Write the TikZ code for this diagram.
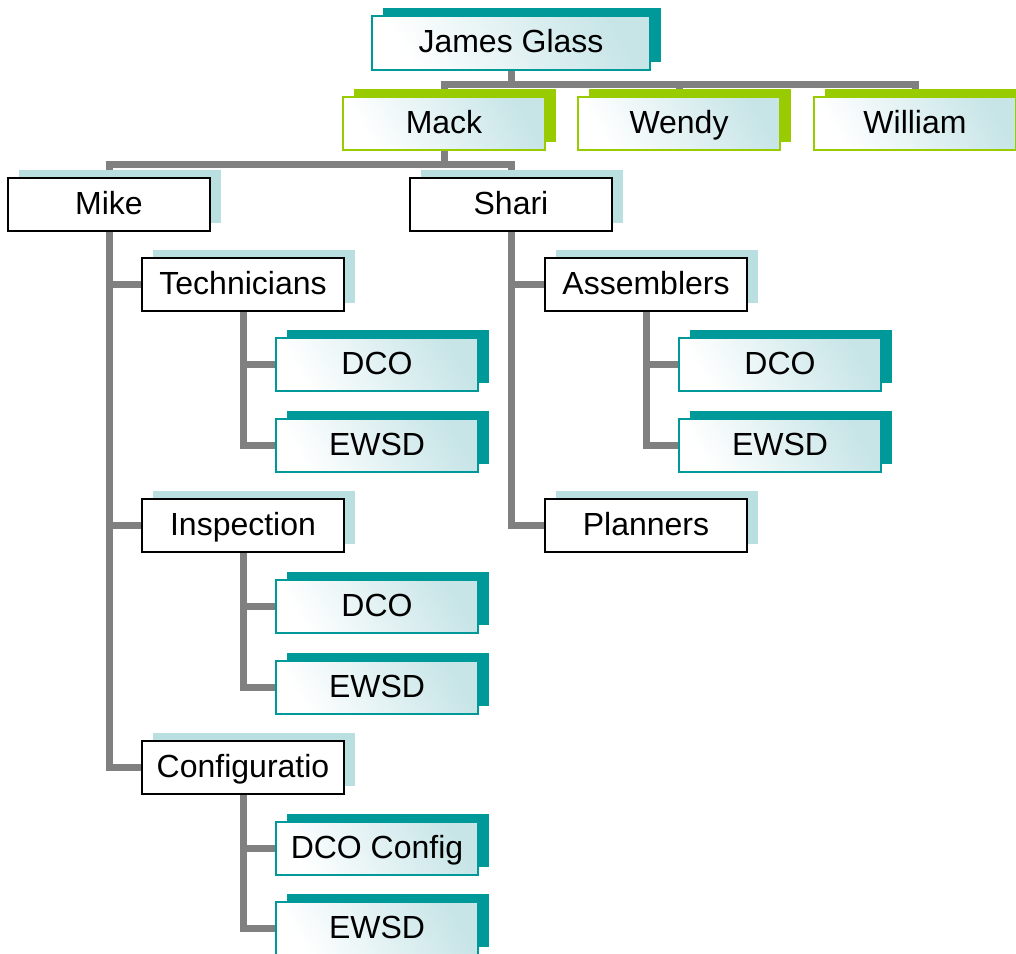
\documentclass[tikz,border=0pt]{standalone}
\usepackage{fontspec}
\setmainfont{Liberation Sans}
\usetikzlibrary{shadows,backgrounds}

\definecolor{tealdark}{HTML}{009999}
\definecolor{limegreen}{HTML}{99CC00}
\definecolor{paleblue}{HTML}{B9DFE1}
\definecolor{gradblue}{HTML}{BDE0E3}
\definecolor{linegray}{HTML}{808080}

\tikzset{
    box/.style={rectangle, minimum width=101pt, minimum height=26.5pt, inner sep=0pt,
        text height=12pt, text depth=2.5pt,
        font=\fontsize{16}{18}\selectfont, line width=1pt},
    shadebox/.style={box, left color=white, right color=gradblue!85, shading angle=120},
    tealbox/.style={shadebox, draw=tealdark,
        drop shadow={shadow xshift=5.5pt, shadow yshift=4pt, opacity=1, fill=tealdark}},
    greenbox/.style={shadebox, draw=limegreen,
        drop shadow={shadow xshift=5.5pt, shadow yshift=4pt, opacity=1, fill=limegreen}},
    plainbox/.style={box, draw=black, fill=white,
        drop shadow={shadow xshift=5.5pt, shadow yshift=4pt, opacity=1, fill=paleblue}},
    conn/.style={draw=linegray, line width=3.5pt}
}

\begin{document}
\begin{tikzpicture}[x=0.5pt, y=-0.5pt]
    \useasboundingbox (0,0) rectangle (1016,953);
    \clip (0,0) rectangle (1016,953);

    % top level
    \node[tealbox, minimum width=139pt, minimum height=27pt] (james) at (511,43) {James Glass};
    \node[greenbox] (mack) at (444,123.5) {Mack};
    \node[greenbox] (wendy) at (679,123.5) {Wendy};
    \node[greenbox] (william) at (915,123.5) {William};

    % Mike branch
    \node[plainbox] (mike) at (109,204.5) {Mike};
    \node[plainbox] (tech) at (243,284.5) {Technicians};
    \node[tealbox] (techdco) at (377,364.5) {DCO};
    \node[tealbox] (techewsd) at (377,445.5) {EWSD};
    \node[plainbox] (insp) at (243,525.5) {Inspection};
    \node[tealbox] (inspdco) at (377,606.5) {DCO};
    \node[tealbox] (inspewsd) at (377,687.5) {EWSD};
    \node[plainbox] (conf) at (243,767.5) {Configuratio};
    \node[tealbox] (confdco) at (377,848.5) {DCO Config};
    \node[tealbox] (confewsd) at (377,928.5) {EWSD};

    % Shari branch
    \node[plainbox] (shari) at (511,204.5) {Shari};
    \node[plainbox] (asm) at (646,284.5) {Assemblers};
    \node[tealbox] (asmdco) at (780,364.5) {DCO};
    \node[tealbox] (asmewsd) at (780,445.5) {EWSD};
    \node[plainbox] (plan) at (646,525.5) {Planners};

    % tree lines behind the boxes
    \begin{scope}[on background layer]
        \draw[conn] (james.south) -- ++(0,13) -| (mack.north);
        \draw[conn] (james.south) -- ++(0,13) -| (wendy.north);
        \draw[conn] (james.south) -- ++(0,13) -| (william.north);
        \draw[conn] (mack.south) -- ++(0,13) -| (mike.north);
        \draw[conn] (mack.south) -- ++(0,13) -| (shari.north);
        \draw[conn] (mike.south) |- (tech.west);
        \draw[conn] (mike.south) |- (insp.west);
        \draw[conn] (mike.south) |- (conf.west);
        \draw[conn] (tech.south) |- (techdco.west);
        \draw[conn] (tech.south) |- (techewsd.west);
        \draw[conn] (insp.south) |- (inspdco.west);
        \draw[conn] (insp.south) |- (inspewsd.west);
        \draw[conn] (conf.south) |- (confdco.west);
        \draw[conn] (conf.south) |- (confewsd.west);
        \draw[conn] (shari.south) |- (asm.west);
        \draw[conn] (shari.south) |- (plan.west);
        \draw[conn] (asm.south) |- (asmdco.west);
        \draw[conn] (asm.south) |- (asmewsd.west);
    \end{scope}
\end{tikzpicture}
\end{document}
